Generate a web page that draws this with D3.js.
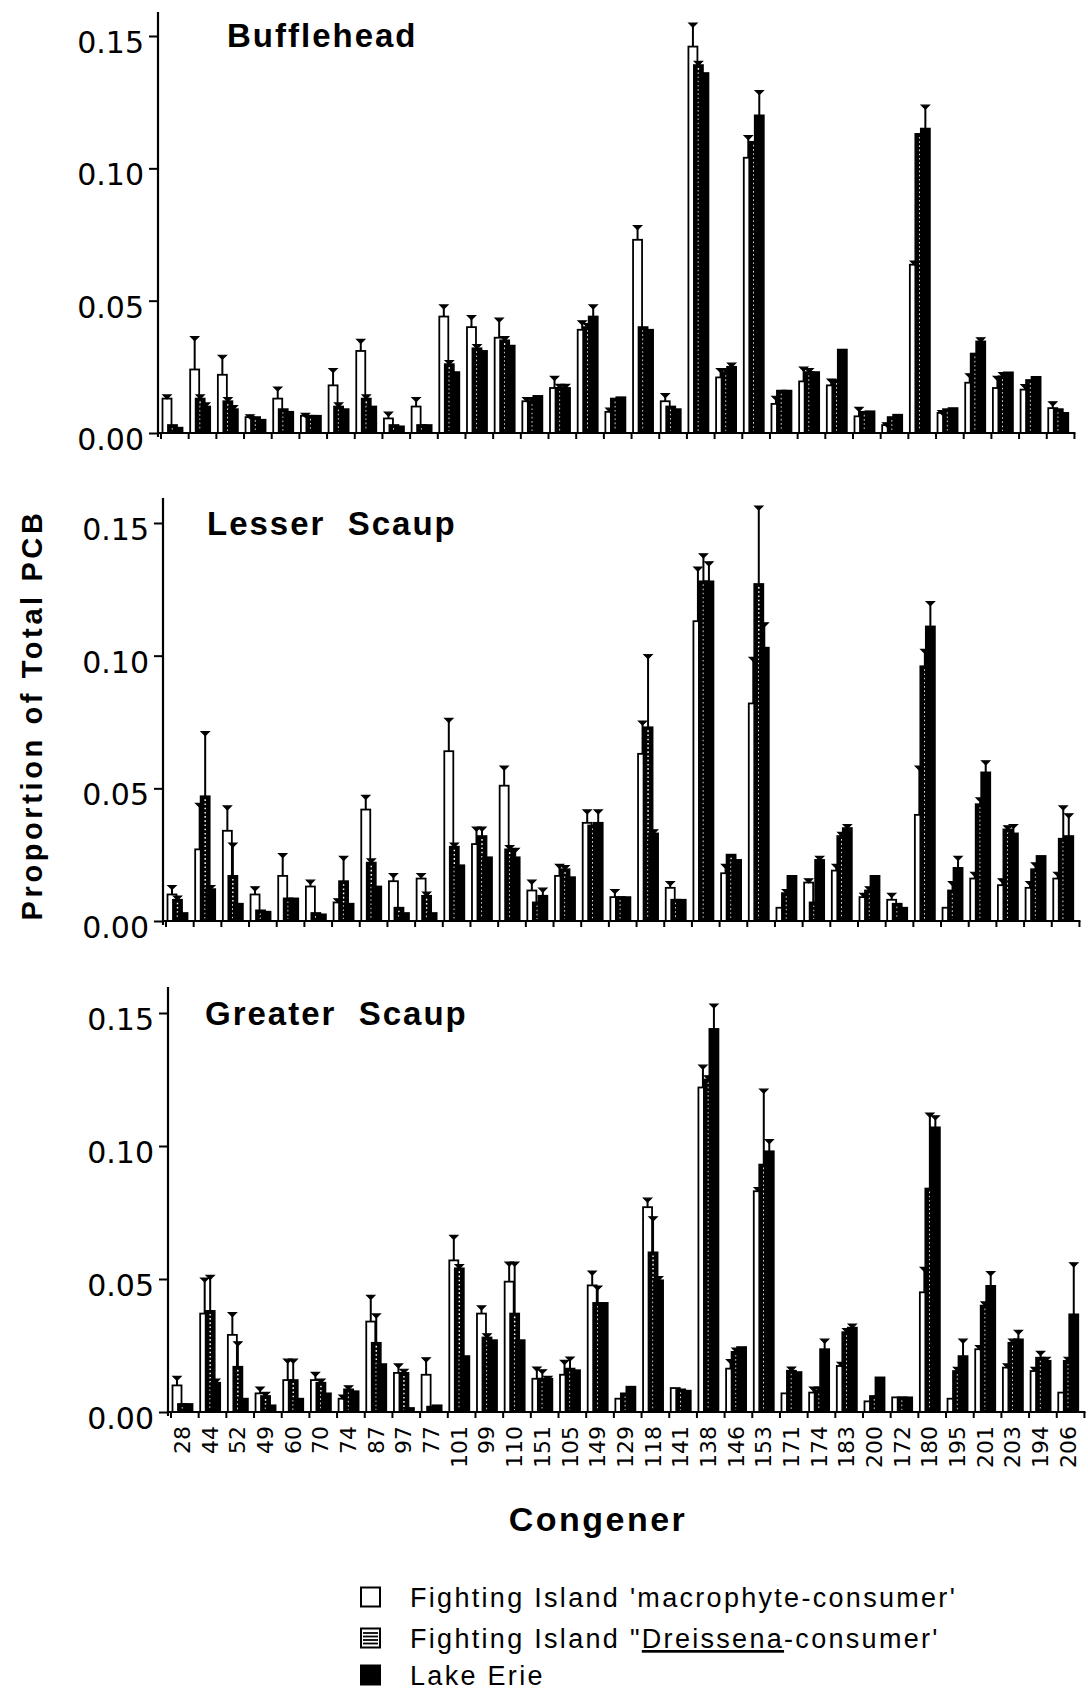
<!DOCTYPE html>
<html><head><meta charset="utf-8">
<script src="https://cdn.jsdelivr.net/npm/d3@7"></script>
<style>body{margin:0;background:#fff} svg{display:block}</style>
</head><body>
<svg id="chart" width="1088" height="1693"></svg>
<script>
// ---------- DATA ----------
const congeners = ["28","44","52","49","60","70","74","87","97","77","101","99","110","151","105","149","129","118","141","138","146","153","171","174","183","200","172","180","195","201","203","194","206"];
const yTicks = [0, 0.05, 0.10, 0.15];
const panelTitles = ["Bufflehead", "Lesser  Scaup", "Greater  Scaup"];
const seriesNames = ["Fighting Island 'macrophyte-consumer'", "Fighting Island \"Dreissena-consumer'", "Lake Erie"];
const yTitle = "Proportion of Total PCB";
const xTitle = "Congener";

const buffleheadMacro = [0.013,0.024,0.022,0.006,0.013,0.0065,0.018,0.031,0.0055,0.010,0.044,0.040,0.036,0.012,0.017,0.039,0.008,0.073,0.012,0.146,0.021,0.104,0.011,0.0195,0.018,0.0063,0.003,0.0636,0.0076,0.019,0.017,0.0164,0.0094];
const buffleheadMacroErr = [0.001,0.012,0.007,0.0005,0.004,0.0005,0.006,0.004,0.002,0.003,0.004,0.004,0.007,0.001,0.004,0.003,0.001,0.005,0.0025,0.0085,0.003,0.008,0.0025,0.005,0.002,0.003,0.0005,0.001,0.0005,0.003,0.004,0.0015,0.002];
const buffleheadDreis = [0.003,0.013,0.012,0.006,0.009,0.0065,0.010,0.013,0.003,0.003,0.026,0.032,0.035,0.012,0.017,0.040,0.013,0.040,0.010,0.139,0.023,0.110,0.016,0.023,0.020,0.008,0.006,0.113,0.009,0.030,0.0214,0.020,0.009];
const buffleheadDreisErr = [0,0.001,0.001,0,0,0,0.001,0.001,0,0,0.001,0.001,0.001,0.001,0.001,0.001,0,0,0,0.001,0.001,0,0,0.001,0,0,0,0,0,0,0.001,0,0];
const buffleheadErie = [0.002,0.010,0.009,0.005,0.008,0.0065,0.009,0.010,0.0025,0.003,0.023,0.031,0.033,0.014,0.017,0.044,0.0135,0.039,0.009,0.136,0.025,0.120,0.016,0.023,0.0315,0.0082,0.0069,0.115,0.0094,0.0346,0.0229,0.0212,0.0076];
const buffleheadErieErr = [0,0.001,0.001,0,0,0,0,0,0,0,0,0,0,0,0.001,0.004,0,0,0,0,0.001,0.009,0,0,0,0,0,0.0085,0,0.001,0,0,0];

const lesserMacro = [0.010,0.027,0.034,0.010,0.017,0.013,0.007,0.042,0.015,0.016,0.064,0.029,0.051,0.0115,0.017,0.037,0.009,0.063,0.0125,0.113,0.018,0.082,0.005,0.0145,0.019,0.009,0.008,0.040,0.005,0.016,0.0135,0.0125,0.016];
const lesserMacroErr = [0.003,0.017,0.009,0.0025,0.008,0.002,0.001,0.005,0.0025,0.0015,0.012,0.006,0.007,0.0035,0.004,0.0045,0.0025,0.012,0.002,0.020,0.003,0.017,0,0.001,0.002,0.001,0.002,0.018,0,0.002,0.002,0.002,0.002];
const lesserDreis = [0.008,0.047,0.017,0.004,0.0085,0.003,0.015,0.022,0.005,0.0095,0.028,0.032,0.027,0.007,0.0195,0.036,0.009,0.073,0.008,0.128,0.025,0.127,0.0105,0.007,0.032,0.0115,0.0065,0.096,0.0115,0.044,0.0345,0.0195,0.031];
const lesserDreisErr = [0.001,0.024,0.012,0,0,0,0.009,0.001,0,0.001,0.001,0.003,0.001,0,0.001,0,0,0.027,0,0.010,0,0.029,0.001,0,0.001,0.001,0,0.006,0.003,0.002,0.001,0.002,0.012];
const lesserErie = [0.003,0.012,0.0065,0.0035,0.0085,0.0025,0.0065,0.013,0.003,0.003,0.021,0.024,0.024,0.0095,0.0165,0.037,0.009,0.033,0.008,0.128,0.023,0.103,0.017,0.023,0.035,0.017,0.005,0.111,0.020,0.056,0.033,0.0245,0.032];
const lesserErieErr = [0,0.001,0,0,0,0,0,0,0,0,0,0,0.003,0.0025,0,0.0045,0,0.001,0,0.007,0,0.009,0,0.001,0.001,0,0,0.009,0.004,0.004,0.003,0,0.008];

const greaterMacro = [0.010,0.037,0.029,0.007,0.012,0.012,0.005,0.034,0.0147,0.014,0.057,0.037,0.049,0.0125,0.014,0.0476,0.005,0.077,0.009,0.122,0.0163,0.083,0.007,0.0073,0.0173,0.004,0.0055,0.045,0.005,0.0236,0.0167,0.0154,0.0073];
const greaterMacroErr = [0.003,0.013,0.008,0.002,0.0075,0.0025,0.001,0.0095,0.003,0.006,0.009,0.0025,0.007,0.004,0.005,0.005,0,0.003,0,0.008,0.003,0.001,0,0.0017,0.001,0,0,0.009,0,0.001,0.001,0.001,0];
const greaterDreis = [0.003,0.038,0.017,0.006,0.012,0.011,0.0085,0.026,0.0147,0.002,0.054,0.028,0.037,0.0125,0.0163,0.041,0.007,0.060,0.0085,0.125,0.0226,0.093,0.0155,0.008,0.030,0.006,0.0055,0.084,0.0154,0.040,0.026,0.0204,0.0192];
const greaterDreisErr = [0,0.013,0.009,0.001,0.0075,0.001,0.001,0.0105,0.001,0,0.001,0.001,0.019,0.003,0.004,0.006,0,0.013,0,0.001,0.001,0.028,0.001,0.001,0.001,0,0,0.028,0.001,0.001,0.001,0.002,0.001];
const greaterErie = [0.003,0.011,0.005,0.0025,0.005,0.007,0.0078,0.018,0.0015,0.0025,0.021,0.027,0.027,0.0125,0.0157,0.041,0.0095,0.0495,0.008,0.144,0.0244,0.098,0.015,0.0236,0.0317,0.013,0.0055,0.107,0.021,0.0474,0.0273,0.0192,0.0367];
const greaterErieErr = [0,0.001,0,0,0,0,0,0,0,0,0,0,0,0.0005,0,0,0,0.001,0,0.009,0,0.004,0,0.0034,0.001,0,0,0.004,0.006,0.005,0.003,0.001,0.019];

// ---------- LAYOUT ----------
const FONT = "'Liberation Sans', Arial, Helvetica, sans-serif";
const NUMFONT = "'DejaVu Sans', Verdana, sans-serif";
const BAND = 27.68, BW = 9;
const offsets = [1.5, 7, 12.5];
const panels = [
  {title: panelTitles[0], data: [[buffleheadMacro, buffleheadMacroErr],[buffleheadDreis, buffleheadDreisErr],[buffleheadErie, buffleheadErieErr]],
   axisX: 158, y0: 433, y15: 36, top: 12, titleX: 227, titleY: 47, labels: false},
  {title: panelTitles[1], data: [[lesserMacro, lesserMacroErr],[lesserDreis, lesserDreisErr],[lesserErie, lesserErieErr]],
   axisX: 163, y0: 921, y15: 523, top: 498, titleX: 207, titleY: 535, labels: false},
  {title: panelTitles[2], data: [[greaterMacro, greaterMacroErr],[greaterDreis, greaterDreisErr],[greaterErie, greaterErieErr]],
   axisX: 168, y0: 1412, y15: 1013, top: 987, titleX: 205, titleY: 1025, labels: true}
];

const svg = d3.select("#chart");
svg.append("rect").attr("width",1088).attr("height",1693).attr("fill","#fff");

panels.forEach(p => {
  const g = svg.append("g");
  const x = d3.scaleBand().domain(congeners).range([p.axisX + 3, p.axisX + 3 + BAND * congeners.length]).padding(0);
  const y = d3.scaleLinear().domain([0, 0.15]).range([p.y0, p.y15]);

  // bars
  p.data.forEach((s, si) => {
    const [vals, errs] = s;
    const sg = g.append("g");
    congeners.forEach((c, i) => {
      const v = vals[i], e = errs[i];
      const bx = x(c) + offsets[si];
      const top = y(v);
      sg.append("rect").attr("x", bx).attr("y", top).attr("width", BW).attr("height", p.y0 - top)
        .attr("fill", si === 0 ? "#fff" : "#000").attr("stroke", "#000").attr("stroke-width", 1.8);
      if (si === 1 && p.y0 - top > 6) {
        sg.append("line").attr("x1", bx + BW/2).attr("x2", bx + BW/2)
          .attr("y1", top + 3).attr("y2", p.y0 - 2)
          .attr("stroke", "#fff").attr("stroke-width", 1.4).attr("stroke-dasharray", "1.6,2.6");
      }
      if (e > 0) {
        const cx = bx + BW/2, ye = y(v + e);
        sg.append("line").attr("x1", cx).attr("x2", cx).attr("y1", top).attr("y2", ye)
          .attr("stroke", "#000").attr("stroke-width", 2);
        sg.append("path").attr("d", `M${cx-4},${ye-1}L${cx+4},${ye-1}L${cx},${ye+3}Z`)
          .attr("fill", "#000").attr("stroke", "#000").attr("stroke-width", 1.2);
      }
    });
  });

  // y axis
  const yAxis = d3.axisLeft(y).tickValues(yTicks).tickSize(9).tickSizeOuter(0).tickPadding(5).tickFormat(d3.format(".2f"));
  const ya = g.append("g").attr("transform", `translate(${p.axisX},0)`).call(yAxis);
  ya.select(".domain").remove();
  ya.selectAll(".tick line").attr("stroke", "#000").attr("stroke-width", 2);
  ya.selectAll(".tick text").attr("font-family", NUMFONT).attr("font-size", 30)
    .attr("fill", "#000").attr("dy", "0.55em");
  g.append("line").attr("x1", p.axisX).attr("x2", p.axisX).attr("y1", p.top).attr("y2", p.y0 + 4)
    .attr("stroke", "#000").attr("stroke-width", 2.2);

  // x axis
  const xEnd = x.range()[1];
  g.append("line").attr("x1", p.axisX).attr("x2", xEnd + 1).attr("y1", p.y0).attr("y2", p.y0)
    .attr("stroke", "#000").attr("stroke-width", 2.2);
  const bounds = congeners.map(c => x(c)).concat([xEnd]);
  g.selectAll(".xt").data(bounds).join("line").attr("class", "xt")
    .attr("x1", d => d).attr("x2", d => d).attr("y1", p.y0).attr("y2", p.y0 + 6)
    .attr("stroke", "#000").attr("stroke-width", 2);

  if (p.labels) {
    g.selectAll(".xl").data(congeners).join("text").attr("class", "xl")
      .attr("transform", d => `translate(${x(d) + 11.5},${p.y0 + 14}) rotate(-90)`)
      .attr("text-anchor", "end").attr("dominant-baseline", "central")
      .attr("font-family", NUMFONT).attr("font-size", 22)
      .text(d => d);
  }

  // title
  g.append("text").attr("x", p.titleX).attr("y", p.titleY)
    .attr("font-family", FONT).attr("font-weight", "bold").attr("font-size", 33)
    .attr("letter-spacing", 2).style("white-space", "pre").attr("xml:space", "preserve")
    .text(p.title);
});

// axis titles
svg.append("text").attr("transform", "translate(32,715) rotate(-90)")
  .attr("text-anchor", "middle").attr("dominant-baseline", "central")
  .attr("font-family", FONT).attr("font-weight", "bold").attr("font-size", 29).attr("letter-spacing", 3.6)
  .text(yTitle);
svg.append("text").attr("x", 598).attr("y", 1531).attr("text-anchor", "middle")
  .attr("font-family", FONT).attr("font-weight", "bold").attr("font-size", 34).attr("letter-spacing", 2.5)
  .text(xTitle);

// legend
const legY = [1597, 1638, 1675];
const lg = svg.append("g");
seriesNames.forEach((name, i) => {
  const cy = legY[i];
  const bx = 361, bs = 19;
  lg.append("rect").attr("x", bx).attr("y", cy - bs/2).attr("width", bs).attr("height", bs)
    .attr("fill", i === 2 ? "#000" : "#fff").attr("stroke", "#000").attr("stroke-width", 2);
  if (i === 1) {
    [4.5, 8, 11.5, 15].forEach(o => {
      lg.append("line").attr("x1", bx + 2).attr("x2", bx + bs - 2).attr("y1", cy - bs/2 + o).attr("y2", cy - bs/2 + o)
        .attr("stroke", "#000").attr("stroke-width", 1.8);
    });
  }
  const t = lg.append("text").attr("x", 410).attr("y", cy + 10)
    .attr("font-family", FONT).attr("font-size", 27).attr("letter-spacing", 2.3);
  if (i === 1) {
    t.append("tspan").text("Fighting Island \"");
    t.append("tspan").attr("text-decoration", "underline").text("Dreissena");
    t.append("tspan").text("-consumer'");
  } else {
    t.text(name);
  }
});
</script>
</body></html>
